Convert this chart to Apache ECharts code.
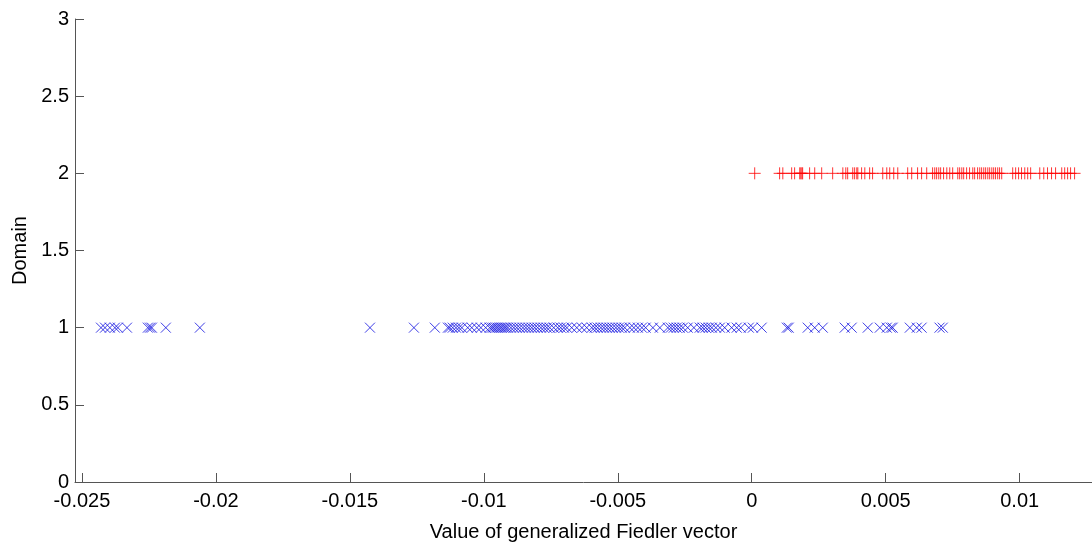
<!DOCTYPE html>
<html>
<head>
<meta charset="utf-8">
<script src="https://cdn.jsdelivr.net/npm/echarts@6/dist/echarts.min.js"></script>
<style>
html,body{margin:0;padding:0;background:#fff;}
#chart{width:1092px;height:545px;}
</style>
</head>
<body>
<div id="chart"></div>
<script>
// Domain 1 (blue x markers): generalized Fiedler vector values
const domain1Values = [
  -0.02429, -0.02414, -0.02396, -0.02377, -0.02366, -0.02332, -0.02254, -0.02246, -0.02239, -0.02187,
  -0.02060, -0.01425, -0.01261, -0.01183,
  -0.01134, -0.01127, -0.01116, -0.01104, -0.01093, -0.01082, -0.01060, -0.01045, -0.01026, -0.01011,
  -0.00993, -0.00978, -0.00970, -0.00963, -0.00955, -0.00948, -0.00940, -0.00933, -0.00925, -0.00918,
  -0.00910, -0.00899, -0.00888, -0.00877, -0.00866, -0.00854, -0.00843, -0.00832, -0.00821, -0.00810,
  -0.00799, -0.00787, -0.00776, -0.00765, -0.00754, -0.00739, -0.00724, -0.00713, -0.00701, -0.00690,
  -0.00672, -0.00653, -0.00634, -0.00616, -0.00597, -0.00586, -0.00575, -0.00563, -0.00552, -0.00541,
  -0.00530, -0.00519, -0.00507, -0.00496, -0.00485, -0.00474, -0.00455, -0.00440, -0.00425, -0.00410,
  -0.00396, -0.00369, -0.00343, -0.00313, -0.00302, -0.00291, -0.00280, -0.00269, -0.00257, -0.00239,
  -0.00216, -0.00194, -0.00183, -0.00172, -0.00160, -0.00149, -0.00134, -0.00119, -0.00101, -0.00075,
  -0.00056, -0.00041, -0.00011, 0.00004, 0.00037, 0.00131, 0.00138, 0.00209, 0.00235, 0.00265,
  0.00347, 0.00373, 0.00433, 0.00478, 0.00504, 0.00519, 0.00526, 0.00590, 0.00616, 0.00634,
  0.00701, 0.00713
];
// Domain 2 (red + markers)
const domain2Values = [
  0.00011, 0.00104, 0.00116, 0.00149, 0.00160, 0.00179, 0.00183, 0.00187, 0.00190, 0.00216,
  0.00235, 0.00261, 0.00302, 0.00340, 0.00351, 0.00358, 0.00377, 0.00384, 0.00392, 0.00396,
  0.00410, 0.00422, 0.00440, 0.00451, 0.00489, 0.00504, 0.00515, 0.00530, 0.00545, 0.00582,
  0.00597, 0.00619, 0.00634, 0.00653, 0.00675, 0.00683, 0.00690, 0.00698, 0.00705, 0.00716,
  0.00728, 0.00739, 0.00750, 0.00769, 0.00776, 0.00784, 0.00791, 0.00802, 0.00813, 0.00825,
  0.00832, 0.00843, 0.00851, 0.00858, 0.00866, 0.00873, 0.00881, 0.00888, 0.00896, 0.00903,
  0.00910, 0.00918, 0.00925, 0.00933, 0.00974, 0.00985, 0.00996, 0.01007, 0.01019, 0.01030,
  0.01041, 0.01075, 0.01090, 0.01104, 0.01119, 0.01134, 0.01157, 0.01168, 0.01179, 0.01190,
  0.01205
];
const domainLevels = [1, 2];
const xTickValues = [-0.025, -0.02, -0.015, -0.01, -0.005, 0, 0.005, 0.01];
const xAxisTitle = 'Value of generalized Fiedler vector';
const yAxisTitle = 'Domain';

const font = 'Liberation Sans, Arial, Helvetica, sans-serif';
const chart = echarts.init(document.getElementById('chart'), null, {renderer: 'canvas'});
chart.setOption({
  animation: false,
  backgroundColor: '#ffffff',
  grid: {left: 75, right: 0, top: 19, bottom: 63, containLabel: false, outerBoundsMode: 'none'},
  xAxis: {
    type: 'value',
    min: -0.02526,
    max: 0.0127,
    name: xAxisTitle,
    nameLocation: 'middle',
    nameGap: 40,
    nameTextStyle: {color: '#000', fontSize: 20, fontFamily: font},
    axisLine: {show: true, onZero: false, lineStyle: {color: '#555', width: 1}},
    axisTick: {show: true, inside: true, length: 9, customValues: xTickValues, lineStyle: {color: '#555'}},
    axisLabel: {
      show: true, customValues: xTickValues, margin: 9,
      color: '#000', fontSize: 20, fontFamily: font,
      formatter: v => String(+(+v).toFixed(4))
    },
    splitLine: {show: false}
  },
  yAxis: {
    type: 'value',
    min: 0,
    max: 3,
    interval: 0.5,
    name: yAxisTitle,
    nameLocation: 'middle',
    nameGap: 44,
    nameRotate: 90,
    nameTextStyle: {color: '#000', fontSize: 20, fontFamily: font},
    axisLine: {show: true, onZero: false, lineStyle: {color: '#555', width: 1}},
    axisTick: {show: true, inside: true, length: 9, lineStyle: {color: '#555'}},
    axisLabel: {
      color: '#000', fontSize: 20, fontFamily: font, margin: 6,
      formatter: v => String(+(+v).toFixed(2))
    },
    splitLine: {show: false}
  },
  series: [
    {
      type: 'scatter',
      name: 'Domain 1',
      data: domain1Values.map(v => [v, domainLevels[0]]),
      symbol: 'path://M0,0L10,10M0,10L10,0',
      symbolSize: 10,
      itemStyle: {color: 'none', borderColor: '#1010e0', borderWidth: 1},
      large: false
    },
    {
      type: 'scatter',
      name: 'Domain 2',
      data: domain2Values.map(v => [v, domainLevels[1]]),
      symbol: 'path://M5,0L5,10M0,5L10,5',
      symbolSize: 12,
      itemStyle: {color: 'none', borderColor: '#ff0000', borderWidth: 1},
      large: false
    }
  ]
});
</script>
</body>
</html>
